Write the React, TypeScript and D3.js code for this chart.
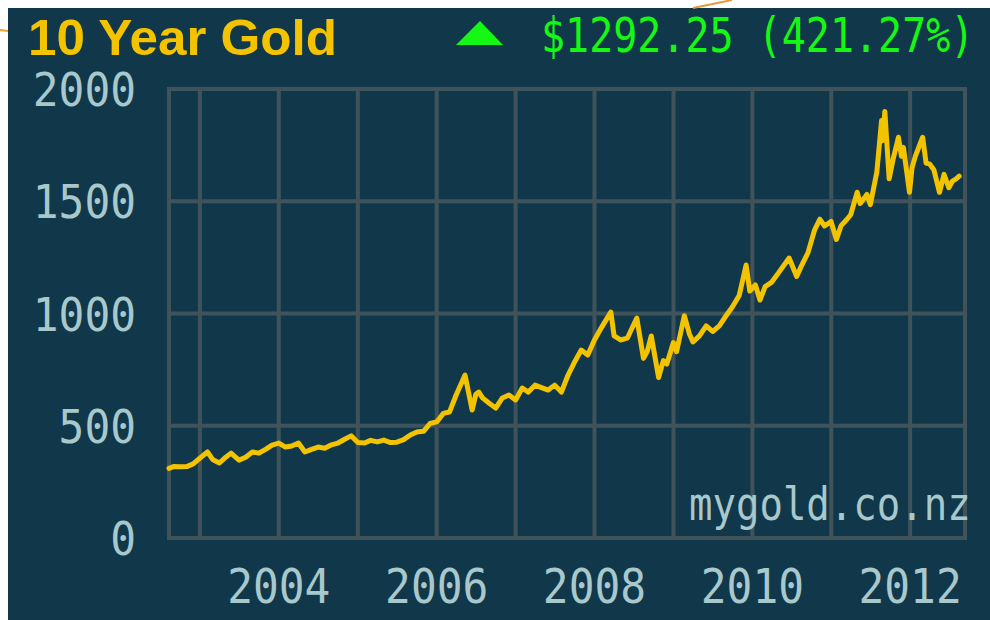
import React from "react";
import * as d3 from "d3";

const dates: string[] = [
  "2002-08-11","2002-09-01","2002-10-01","2002-11-01","2002-12-01",
  "2003-01-01","2003-02-05","2003-03-01","2003-04-01","2003-05-01","2003-05-25","2003-07-01","2003-08-01","2003-09-01","2003-10-01","2003-11-01","2003-12-01",
  "2004-01-01","2004-02-01","2004-03-01","2004-04-01","2004-05-01","2004-06-01","2004-07-01","2004-08-01","2004-09-01","2004-10-01","2004-11-01","2004-12-01",
  "2005-01-01","2005-02-01","2005-03-01","2005-04-01","2005-05-01","2005-06-01","2005-07-01","2005-08-01","2005-09-01","2005-10-01","2005-11-01","2005-12-01",
  "2006-01-01","2006-02-01","2006-03-01","2006-04-01","2006-05-12","2006-06-14","2006-07-01","2006-07-15","2006-08-01","2006-09-01","2006-10-01","2006-11-01","2006-12-01",
  "2007-01-01","2007-02-01","2007-03-01","2007-04-01","2007-05-01","2007-06-01","2007-07-01","2007-08-01","2007-09-01","2007-10-01","2007-11-01","2007-12-01",
  "2008-01-01","2008-02-01","2008-03-17","2008-04-01","2008-05-01","2008-06-01","2008-07-15","2008-08-15","2008-09-01","2008-09-20","2008-10-24","2008-11-15","2008-12-01","2008-12-31",
  "2009-01-15","2009-02-20","2009-03-15","2009-04-01","2009-05-01","2009-06-01","2009-07-01","2009-08-01","2009-09-01","2009-10-01","2009-11-01","2009-12-03","2009-12-20",
  "2010-01-15","2010-02-05","2010-03-01","2010-04-01","2010-05-01","2010-06-20","2010-07-25","2010-08-15","2010-09-15","2010-10-15","2010-11-09","2010-12-01","2010-12-31",
  "2011-01-25","2011-02-15","2011-03-15","2011-04-01","2011-05-01","2011-05-15","2011-06-15","2011-07-01","2011-07-31","2011-08-22","2011-08-26","2011-09-06","2011-09-26","2011-10-15","2011-11-08","2011-11-22","2011-12-01","2011-12-29",
  "2012-01-10","2012-01-25","2012-02-28","2012-03-15","2012-04-01","2012-04-20","2012-05-16","2012-06-06","2012-06-28","2012-07-15","2012-08-01","2012-08-15"
];

const prices: number[] = [
  310,318,317,318,330,
  356,383,350,334,360,378,347,360,383,378,395,414,
  423,405,410,423,383,395,405,400,415,423,440,455,
  425,423,435,428,436,425,427,438,459,472,475,510,
  517,555,561,637,726,570,640,650,624,600,579,624,637,
  615,668,650,681,670,659,681,650,726,784,837,815,
  882,935,1006,900,882,890,980,800,830,900,715,790,775,870,
  830,990,910,873,900,945,920,945,990,1030,1080,1216,1100,
  1127,1060,1120,1140,1180,1247,1165,1210,1270,1370,1420,1390,1410,
  1330,1390,1420,1440,1540,1490,1530,1485,1630,1860,1770,1900,1600,1690,1785,1700,1740,1540,
  1650,1700,1785,1670,1665,1640,1540,1620,1560,1590,1600,1612
];

const yTicks: number[] = [0, 500, 1000, 1500, 2000];
const xLabelYears: number[] = [2004, 2006, 2008, 2010, 2012];
const titleText = "10 Year Gold";
const changeText = "$1292.25 (421.27%)";
const watermarkText = "mygold.co.nz";

const W = 990, H = 620;
const BG = "#10384a";
const GRID = "#41535a";
const LABEL = "#a8c8cc";
const GOLD = "#f3c300";
const GREEN = "#14f814";

export default function App() {
  const parse = d3.timeParse("%Y-%m-%d");
  const data = dates.map((d, i) => ({ date: parse(d) as Date, value: prices[i] }));

  const x = d3.scaleTime()
    .domain([new Date(2002, 7, 11), new Date(2012, 8, 11)])
    .range([169, 965]);
  const y = d3.scaleLinear().domain([0, 2000]).range([538, 89]);

  const yearLines = d3.timeYear.range(new Date(2003, 0, 1), new Date(2012, 11, 31));
  const line = d3.line<{ date: Date; value: number }>()
    .x((d) => x(d.date))
    .y((d) => y(d.value))
    .curve(d3.curveLinear);

  const mono = "'DejaVu Sans Mono', monospace";
  const adv = 25.8;

  // watermark: natural width fits; stretch vertically
  const wmSize = 39;
  const wmSy = 1.2;
  const chSize = 40;
  const chSy = 1.22;

  return (
    <svg width={W} height={H} style={{ position: "absolute", left: 0, top: 0, display: "block" }}>
      <rect x={0} y={0} width={W} height={H} fill="#ffffff" />
      <rect x={8} y={8} width={W - 8} height={H - 8} fill={BG} />
      {/* decorative orange strokes outside the panel */}
      <line x1={0} y1={30} x2={8} y2={31} stroke="#f0a030" strokeWidth={2} />
      <line x1={693} y1={8} x2={732} y2={0} stroke="#e59a3a" strokeWidth={2} />

      {/* grid */}
      <g stroke={GRID} strokeWidth={4} fill="none">
        {yTicks.slice(1, -1).map((t) => (
          <line key={"h" + t} x1={169} x2={965} y1={y(t)} y2={y(t)} />
        ))}
        {yearLines.map((d) => (
          <line key={"v" + d.getFullYear()} x1={x(d)} x2={x(d)} y1={89} y2={538} />
        ))}
        <rect x={169} y={89} width={965 - 169} height={538 - 89} />
      </g>

      {/* y labels */}
      {yTicks.map((t) => {
        const s = String(t);
        return (
          <text key={"yl" + t} x={136} y={y(t) + 17} textAnchor="end" fontFamily={mono}
            fontSize={47} fill={LABEL} textLength={s.length * adv} lengthAdjust="spacingAndGlyphs">
            {s}
          </text>
        );
      })}

      {/* x labels */}
      {xLabelYears.map((yr) => {
        const s = String(yr);
        return (
          <text key={"xl" + yr} x={x(new Date(yr, 0, 1))} y={603} textAnchor="middle" fontFamily={mono}
            fontSize={48} fill={LABEL} textLength={s.length * adv} lengthAdjust="spacingAndGlyphs">
            {s}
          </text>
        );
      })}

      {/* watermark */}
      <g transform={`translate(689,520) scale(1,${wmSy})`}>
        <text x={0} y={0} fontFamily={mono} fontSize={wmSize} fill={LABEL}>{watermarkText}</text>
      </g>

      {/* price line */}
      <path d={line(data) || ""} fill="none" stroke={GOLD} strokeWidth={5}
        strokeLinejoin="round" strokeLinecap="round" />

      {/* title */}
      <text x={28} y={55} fontFamily="'Liberation Sans', Arial, sans-serif" fontWeight="bold"
        fontSize={50} fill={GOLD} textLength={309} lengthAdjust="spacingAndGlyphs">{titleText}</text>

      {/* change indicator */}
      <polygon points="456,45 503,45 480,21" fill={GREEN} />
      <g transform={`translate(541,52) scale(1,${chSy})`}>
        <text x={0} y={0} fontFamily={mono} fontSize={chSize} fill={GREEN}>{changeText}</text>
      </g>
    </svg>
  );
}
